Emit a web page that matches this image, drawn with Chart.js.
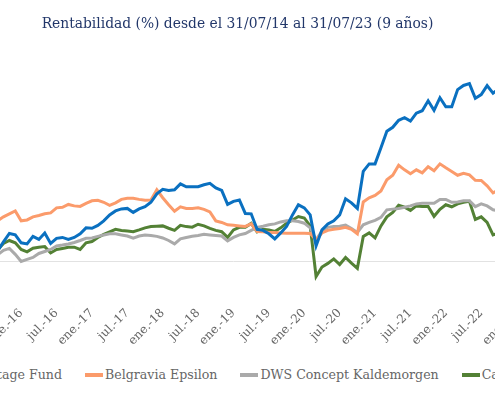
<!DOCTYPE html>
<html><head><meta charset="utf-8">
<script src="https://cdn.jsdelivr.net/npm/chart.js@4.4.0/dist/chart.umd.min.js"></script>
<style>
html,body{margin:0;padding:0;width:495px;height:400px;overflow:hidden;background:#fff;}
#wrap{position:absolute;left:-125px;top:0;width:725px;height:400px;}
#c{position:absolute;left:0;top:0;width:725px;height:350px;}
#legend{position:absolute;left:0;top:366px;display:flex;font-family:"DejaVu Serif";font-size:12.6px;color:#666;white-space:nowrap;line-height:18px;}
.item{display:flex;align-items:center;margin-right:23px;}
.sw{width:18px;height:3.5px;margin-right:2px;}
</style></head><body>
<div id="wrap"><canvas id="c" width="725" height="350"></canvas></div>
<div id="legend"></div>
<script>
const titleText = "Rentabilidad (%) desde el 31/07/14 al 31/07/23 (9 años)";
const monthNames = ["ene.","feb.","mar.","abr.","may.","jun.","jul.","ago.","sept.","oct.","nov.","dic."];
const startYear = 2014, startMonth = 6, monthCount = 109;
const categories = [];
for (let i = 0; i < monthCount; i++) {
  const m = (startMonth + i) % 12;
  const y = startYear + Math.floor((startMonth + i) / 12);
  categories.push(monthNames[m] + "-" + String(y).slice(2));
}
const seriesNames = ["Advantage Fund", "Belgravia Epsilon", "DWS Concept Kaldemorgen", "Cartesio X"];
const seriesColors = ["#0a70c0", "#fb9b6b", "#aaaaaa", "#538135"];

const advantage = [
  0, 2.2, 1.7, 3.9, 6.1, 7.2, 5.0, 7.8, 9.4, 10.6,
  12.8, 11.7, 13.9, 10.0, 6.1, 11.1, 15.8, 15.0, 10.6, 10.0,
  14.2, 12.5, 16.1, 10.3, 13.1, 13.6, 12.5, 13.6, 15.6, 18.9,
  18.7, 20.3, 22.8, 26.1, 28.3, 29.4, 29.7, 27.5, 29.4, 30.6,
  33.1, 37.8, 40.3, 39.6, 40.0, 43.3, 41.7, 41.7, 41.7, 42.8,
  43.6, 41.1, 39.7, 31.9, 33.6, 34.4, 26.9, 26.7, 18.1, 17.5,
  15.6, 12.8, 16.1, 19.7, 26.1, 31.7, 30.0, 26.1, 8.9, 17.8,
  21.1, 22.8, 26.1, 35.0, 32.8, 29.7, 50.3, 54.4, 54.4, 63.3,
  72.5, 74.7, 78.6, 80.0, 78.1, 82.5, 83.9, 89.4, 84.1, 91.1,
  86.1, 86.1, 95.6, 97.9, 98.9, 90.8, 92.8, 97.8, 93.6, 96.1,
  94.4, 97.8, 98.9, 96.7, 100.0, 101.1, 98.3, 102.2, 103.3
];
const belgravia = [
  0, 3.9, 6.7, 8.9, 12.2, 14.4, 13.3, 16.7, 18.3, 20.0,
  21.1, 19.4, 22.2, 23.9, 22.8, 25.0, 26.7, 28.3, 22.8, 23.3,
  25.0, 25.8, 26.7, 27.2, 30.0, 30.3, 31.9, 31.1, 30.8, 32.5,
  33.9, 34.2, 33.1, 31.4, 32.8, 34.7, 35.3, 35.3, 34.7, 34.2,
  34.4, 40.0, 35.6, 31.7, 28.1, 30.6, 29.7, 29.7, 30.0, 29.2,
  27.8, 22.8, 21.9, 20.6, 20.3, 20.0, 19.7, 21.1, 16.9, 16.7,
  16.4, 16.3, 16.1, 15.9, 15.9, 15.9, 15.9, 15.8, 12.2, 16.1,
  17.5, 18.1, 18.6, 19.2, 18.1, 15.6, 33.3, 35.6, 36.9, 39.4,
  45.6, 48.1, 53.6, 51.1, 48.9, 51.1, 49.4, 52.8, 50.6, 54.4,
  52.2, 50.2, 48.1, 49.2, 48.3, 45.3, 45.2, 42.2, 38.3, 40.0,
  42.2, 43.9, 41.1, 43.3, 45.0, 42.8, 44.4, 42.2, 43.9
];
const kaldemorgen = [
  0, 1.7, 2.8, 2.2, 3.9, 5.0, 3.9, 5.6, 6.7, 7.2,
  6.1, 7.8, 8.3, 6.7, 3.9, 6.4, 7.5, 4.2, 0.3, 1.4,
  2.5, 4.7, 5.8, 6.9, 8.9, 9.4, 10.0, 10.8, 11.9, 13.1,
  13.3, 14.2, 15.0, 15.6, 15.6, 15.0, 14.4, 13.2, 14.4, 15.0,
  14.7, 14.2, 13.3, 11.9, 10.0, 12.8, 13.6, 14.3, 14.7, 15.3,
  15.0, 14.7, 14.4, 11.7, 13.6, 15.0, 15.8, 17.5, 19.1, 19.8,
  20.6, 21.1, 22.2, 22.8, 22.8, 22.4, 21.5, 18.9, 12.2, 17.2,
  19.2, 19.6, 19.8, 20.4, 18.6, 16.3, 20.6, 21.9, 23.1, 24.7,
  28.9, 29.3, 29.7, 30.3, 31.1, 32.2, 32.5, 32.5, 32.6, 34.7,
  34.7, 33.1, 33.3, 33.9, 33.9, 30.7, 32.2, 31.1, 28.9, 28.3,
  29.4, 30.6, 28.9, 30.0, 31.1, 30.6, 31.7, 31.1, 30.0
];
const cartesio = [
  0, 2.2, 3.3, 2.8, 5.0, 6.1, 4.4, 6.7, 7.8, 8.3,
  7.2, 8.9, 9.4, 8.3, 6.7, 10.3, 11.9, 10.6, 6.9, 5.6,
  7.6, 8.2, 8.5, 5.0, 6.9, 7.5, 8.1, 8.2, 6.9, 10.6,
  11.3, 13.6, 15.3, 16.7, 18.1, 17.5, 17.2, 16.8, 17.8, 18.9,
  19.6, 19.8, 20.0, 18.7, 17.5, 20.3, 19.6, 19.3, 20.9, 20.0,
  18.6, 17.5, 16.8, 13.6, 17.8, 19.2, 19.3, 21.4, 16.7, 18.1,
  17.8, 16.9, 18.9, 21.4, 23.3, 25.2, 24.4, 20.0, -8.1, -2.8,
  -0.8, 1.7, -1.4, 2.5, -0.6, -3.5, 14.1, 16.1, 13.3, 20.0,
  25.0, 27.5, 31.4, 30.4, 28.6, 31.1, 30.8, 30.8, 25.3, 29.2,
  31.7, 30.6, 32.2, 33.1, 33.6, 23.6, 25.0, 21.9, 15.0, 16.1,
  18.9, 17.2, 20.0, 18.3, 21.1, 19.4, 22.2, 20.6, 21.7
];
const seriesValues = [advantage, belgravia, kaldemorgen, cartesio];
const yMin = -20, yMax = 120, yStep = 20;

const serif = "DejaVu Serif";
const datasets = seriesNames.map((n, k) => ({
  label: n, data: seriesValues[k], borderColor: seriesColors[k], backgroundColor: seriesColors[k],
  borderWidth: 3, pointRadius: 0, tension: 0, fill: false, yAxisID: 'y'
}));

new Chart(document.getElementById('c'), {
  type: 'line',
  data: { labels: categories, datasets },
  options: {
    responsive: false, animation: false,
    layout: { padding: 0 },
    plugins: {
      legend: { display: false },
      tooltip: { enabled: false },
      title: { display: true, text: titleText, color: '#22376a',
        font: { family: serif, size: 13.85, weight: 'normal' }, padding: { top: 16, bottom: 13 } }
    },
    scales: {
      x: {
        grid: { display: false, drawTicks: false }, border: { display: false },
        ticks: { autoSkip: false, minRotation: 45, maxRotation: 45, padding: 8, color: '#666',
          font: { family: serif, size: 12 },
          callback: function (v, i) { return i % 6 === 0 ? this.getLabelForValue(v) : null; } },
        afterFit: s => { s.height = 52; }
      },
      y: {
        min: yMin, max: yMax,
        ticks: { stepSize: yStep, color: '#666', font: { family: serif, size: 12 } },
        grid: { drawTicks: false, color: c => (c.tick && c.tick.value === 0) ? '#e2e2e2' : 'rgba(0,0,0,0)' },
        border: { display: false },
        afterFit: s => { s.width = 40; }
      },
      yRight: {
        position: 'right', min: yMin, max: yMax,
        grid: { display: false, drawTicks: false }, border: { display: false },
        ticks: { display: false },
        afterFit: s => { s.width = 48; }
      }
    }
  }
});

const lg = document.getElementById('legend');
const swatches = [];
seriesNames.forEach((n, k) => {
  const it = document.createElement('div'); it.className = 'item';
  const sw = document.createElement('span'); sw.className = 'sw'; sw.style.background = seriesColors[k];
  const tx = document.createElement('span'); tx.textContent = n;
  it.appendChild(sw); it.appendChild(tx); lg.appendChild(it); swatches.push(sw);
});
// anchor the legend so the second entry sits where it does in the reference
const shift = 85 - swatches[1].getBoundingClientRect().left;
lg.style.left = shift + 'px';
</script>
</body></html>
